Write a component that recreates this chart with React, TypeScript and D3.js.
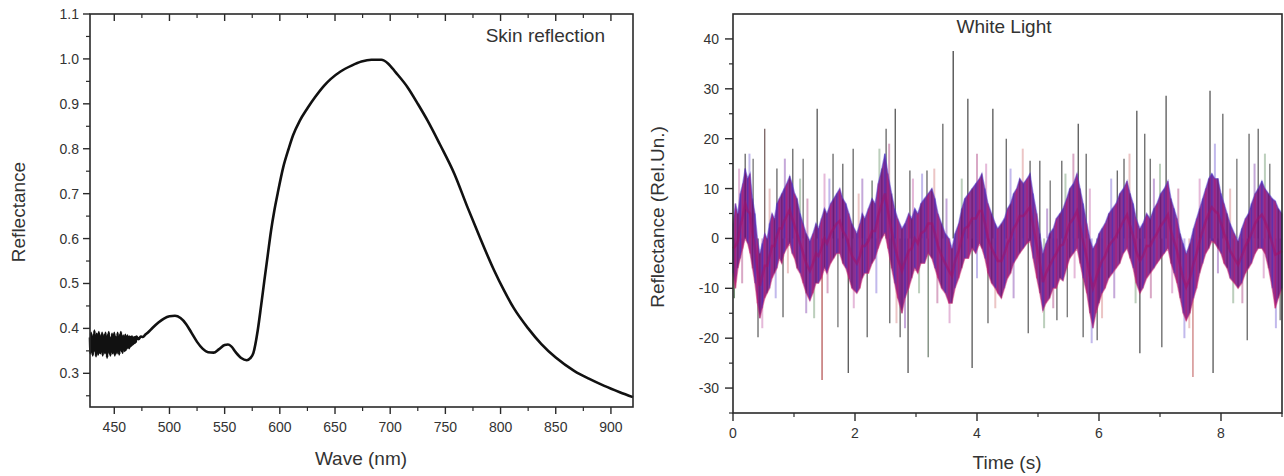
import React from "react";
import * as d3 from "d3";

// ---------- Left panel: skin reflection spectrum ----------
const waveNm = [
  428, 428.5, 429, 429.5, 430, 430.5, 431, 431.5, 432, 432.5, 433, 433.5, 434, 434.5, 435, 435.5, 436, 436.5, 437, 437.5,
  438, 438.5, 439, 439.5, 440, 440.5, 441, 441.5, 442, 442.5, 443, 443.5, 444, 444.5, 445, 445.5, 446, 446.5, 447, 447.5,
  448, 448.5, 449, 449.5, 450, 450.5, 451, 451.5, 452, 452.5, 453, 453.5, 454, 454.5, 455, 455.5, 456, 456.5, 457, 457.5,
  458, 458.5, 459, 459.5, 460, 460.5, 461, 461.5, 462, 462.5, 463, 463.5, 464, 464.5, 465, 465.5, 466, 466.5, 467, 467.5,
  468, 468.5, 469, 469.5, 470,
  472, 474, 476, 478, 480, 485, 490, 495, 500, 505, 510, 515, 520, 525, 530, 535, 540,
  545, 550, 553, 556, 560, 565, 570, 573, 576, 580, 583, 586, 589, 592, 595, 598, 603, 608, 612, 618,
  625, 632, 640, 646, 655, 665, 674, 683, 692, 698, 705, 716, 725, 734, 745, 758, 770, 780, 794, 803,
  812, 825, 837, 850, 867, 880, 894, 908, 920,
];
const reflectance = [
  0.38, 0.345, 0.39, 0.35, 0.375, 0.34, 0.385, 0.355, 0.395, 0.348, 0.372, 0.338, 0.388, 0.352, 0.38, 0.342, 0.392, 0.35, 0.37, 0.345,
  0.385, 0.355, 0.39, 0.34, 0.378, 0.35, 0.385, 0.345, 0.39, 0.355, 0.375, 0.335, 0.385, 0.35, 0.392, 0.345, 0.372, 0.34, 0.38, 0.352,
  0.388, 0.345, 0.375, 0.35, 0.39, 0.34, 0.382, 0.355, 0.376, 0.345, 0.39, 0.35, 0.38, 0.342, 0.386, 0.356, 0.392, 0.35, 0.378, 0.346,
  0.384, 0.355, 0.38, 0.35, 0.386, 0.352, 0.376, 0.356, 0.384, 0.358, 0.38, 0.356, 0.382, 0.36, 0.38, 0.362, 0.382, 0.364, 0.378, 0.366,
  0.38, 0.368, 0.38, 0.37, 0.382,
  0.376, 0.382, 0.381, 0.386, 0.39, 0.402, 0.413, 0.422, 0.427, 0.428, 0.423, 0.41, 0.39, 0.37, 0.355, 0.347, 0.346,
  0.354, 0.363, 0.364, 0.36, 0.347, 0.334, 0.329, 0.333, 0.345, 0.396, 0.45, 0.507, 0.562, 0.617, 0.662, 0.7, 0.758, 0.8, 0.83, 0.862,
  0.89, 0.915, 0.94, 0.955, 0.972, 0.985, 0.994, 0.998, 0.998, 0.99, 0.97, 0.936, 0.9, 0.862, 0.81, 0.745, 0.67, 0.61, 0.53, 0.485,
  0.445, 0.4, 0.365, 0.335, 0.305, 0.288, 0.272, 0.258, 0.247,
];
const leftXTicks = [450, 500, 550, 600, 650, 700, 750, 800, 850, 900];
const leftXMinor = [475, 525, 575, 625, 675, 725, 775, 825, 875];
const leftYTicks = [0.3, 0.4, 0.5, 0.6, 0.7, 0.8, 0.9, 1.0, 1.1];
const leftYMinor = [0.25, 0.35, 0.45, 0.55, 0.65, 0.75, 0.85, 0.95, 1.05];

// ---------- Right panel: White Light time series ----------
const bandT = [
  0.0, 0.04, 0.08, 0.12, 0.16, 0.2, 0.24, 0.28, 0.32, 0.36, 0.4, 0.44, 0.48, 0.52, 0.56, 0.6, 0.64, 0.68, 0.72, 0.76,
  0.8, 0.84, 0.88, 0.93, 0.97, 1.01, 1.05, 1.1, 1.15, 1.2, 1.26, 1.31, 1.36, 1.4, 1.45, 1.5, 1.54, 1.6, 1.65, 1.7,
  1.75, 1.8, 1.85, 1.9, 1.95, 2.03, 2.08, 2.12, 2.16, 2.22, 2.28, 2.33, 2.38, 2.44, 2.49, 2.54, 2.6, 2.65, 2.7, 2.77,
  2.82, 2.88, 2.93, 2.98, 3.03, 3.08, 3.14, 3.2, 3.26, 3.31, 3.36, 3.42, 3.48, 3.54, 3.59, 3.64, 3.7, 3.75, 3.8, 3.86,
  3.92, 3.98, 4.04, 4.08, 4.13, 4.18, 4.24, 4.3, 4.34, 4.4, 4.45, 4.5, 4.55, 4.6, 4.65, 4.7, 4.76, 4.82, 4.87, 4.92,
  4.98, 5.03, 5.08, 5.13, 5.19, 5.25, 5.3, 5.36, 5.41, 5.47, 5.52, 5.58, 5.64, 5.69, 5.74, 5.8, 5.85, 5.9, 5.95, 6.0,
  6.05, 6.1, 6.16, 6.22, 6.28, 6.34, 6.4, 6.46, 6.51, 6.56, 6.61, 6.67, 6.72, 6.78, 6.84, 6.9, 6.95, 7.01, 7.07, 7.13,
  7.18, 7.23, 7.28, 7.33, 7.38, 7.43, 7.49, 7.55, 7.6, 7.65, 7.7, 7.75, 7.8, 7.85, 7.9, 7.95, 8.0, 8.05, 8.1, 8.15,
  8.22, 8.28, 8.34, 8.4, 8.45, 8.5, 8.56, 8.61, 8.67, 8.72, 8.78, 8.84, 8.89, 8.94, 9.0,
];
const bandHi = [
  3, 7, 5, 9, 11, 14, 12, 13, 8, 5, 0, -3, -1, 1, 0, 3, 5, 4, 7, 8,
  9, 10, 11, 12.5, 11, 9, 8, 5, 3, 1, -0.5, 1, 3, 2, 4, 6, 5, 7, 8, 9,
  10, 8, 7, 5, 3, 1, 3, 5, 4, 6, 8, 7, 11, 14, 17, 13, 9, 6, 4, 2,
  3, 5, 4, 6, 5, 7, 8, 9, 10, 8, 5, 3, 1, 0, -2, 1, 3, 6, 8, 9,
  10, 11, 12, 13, 10, 7, 5, 3, 2, 3, 4, 6, 7, 9, 10, 12, 11, 12, 13, 9,
  5, 1, -3, -1, 1, 2, 4, 5, 6, 8, 10, 11, 13, 10, 7, 3, 0, -2, -1, 1,
  2, 3, 5, 6, 7, 9, 10, 11.5, 9, 7, 4, 2, 3, 5, 4, 6, 7, 9, 10, 11.5,
  8, 6, 4, 1, -1, -3, -1, 2, 4, 6, 8, 10, 12, 13, 12, 12, 9, 7, 5, 3,
  1, -0.5, 2, 4, 5, 7, 9, 10, 11.5, 10, 9, 8, 7.5, 6, 5,
];
const bandLo = [
  -7, -10, -6, -4, -2, 0, -1, -3, -6, -9, -13, -16, -14, -12, -11, -10, -8, -7, -6, -4,
  -5, -3, -2, -1, -3, -4, -6, -7, -9, -11, -12.5, -11, -9, -9, -8, -6, -7, -5, -4, -3,
  -3, -5, -6, -8, -10, -11, -10, -8, -7, -7, -5, -4, -2, 0, 1, -2, -6, -9, -12, -15,
  -12, -10, -8, -6, -7, -5, -5, -3, -4, -6, -8, -10, -11, -13, -13, -10, -8, -6, -4, -4,
  -2, -3, -1, -2, -4, -7, -9, -10, -11, -12, -10, -8, -7, -5, -4, -3, -2, -1, -0.5, -4,
  -8, -11, -14.5, -13, -12, -10, -10, -8, -8.5, -6, -4, -3, -2, -5, -8, -11, -15, -18, -15, -13,
  -11, -10, -8, -7, -6, -5, -3, -2, -4, -6, -9, -11, -10, -8, -7, -6, -5, -4, -3, -2,
  -5, -7, -9, -12, -15, -16.5, -15, -12, -10, -7, -5, -3, -2, -0.5, -1, -2, -3, -5, -6, -8,
  -9, -10, -9, -7, -6, -5, -3, -2, -2, -3, -6, -10, -14, -12, -10,
];
const spikeT = [
  0.2, 0.33, 0.52, 0.72, 0.98, 1.15, 1.38, 1.64, 1.8, 1.97, 2.28, 2.51, 2.66, 2.9, 3.18, 3.44, 3.61, 3.85, 4.26, 4.48,
  4.87, 5.03, 5.2, 5.39, 5.66, 5.79, 6.3, 6.41, 6.62, 6.75, 6.84, 7.1, 7.82, 8.03, 8.26, 8.46, 8.61, 8.8,
  0.02, 0.41, 0.82, 1.46, 1.72, 1.89, 2.2, 2.57, 2.74, 2.87, 3.2, 3.92, 4.18, 4.84, 5.31, 5.48, 5.74, 5.97, 6.67, 7.03,
  7.54, 7.87, 8.43, 8.97,
];
const spikeV = [
  17, 16, 22, 14, 18, 16, 26, 17, 15, 18, 11.6, 22, 26, 13.6, 13.6, 23, 37.6, 28, 26, 20,
  15.6, 15.6, 11.6, 15.6, 23, 17, 13.6, 16, 25.6, 21, 16, 28.6, 29.6, 25, 16, 21, 22, 15,
  -12, -19.8, -15.8, -28.4, -17.8, -27, -19.8, -17, -19.8, -27, -23.8, -26, -17, -19, -16.4, -15.8, -19.8, -20.4, -23, -21.8,
  -27.8, -27, -20.4, -16.4,
];
const spikeColor = [
  "#555", "#666", "#6a5050", "#555", "#555", "#666", "#444", "#555", "#555", "#555", "#5a6a5a", "#555", "#444", "#555", "#555", "#555", "#333", "#444", "#444", "#555",
  "#555", "#555", "#666", "#555", "#444", "#555", "#555", "#555", "#444", "#555", "#555", "#444", "#444", "#555", "#666", "#555", "#555", "#666",
  "#507050", "#555", "#555", "#b04848", "#666", "#444", "#555", "#555", "#555", "#444", "#667766", "#444", "#555", "#555", "#555", "#666", "#555", "#555", "#444", "#555",
  "#c87070", "#444", "#555", "#666",
];
// smaller, fainter excursions around the band
const minorT = [
  0.1, 0.27, 0.6, 0.85, 1.1, 1.22, 1.5, 1.58, 2.06, 2.12, 2.4, 2.56, 2.95, 3.1, 3.3, 3.5, 3.75, 4.0, 4.15, 4.55,
  4.75, 5.15, 5.45, 5.58, 5.85, 6.2, 6.5, 6.9, 7.0, 7.3, 7.65, 7.9, 8.15, 8.55, 8.72,
  0.15, 0.48, 0.7, 0.9, 1.2, 1.33, 1.55, 1.98, 2.35, 2.68, 2.82, 3.05, 3.35, 3.55, 4.0, 4.3, 4.6, 5.1, 5.25, 5.6,
  5.88, 6.05, 6.25, 6.6, 6.85, 7.2, 7.4, 7.48, 7.95, 8.2, 8.35, 8.7, 8.9,
];
const minorV = [
  14, 17, 10, 16, 12, 8, 13, 12, 9, 12, 18, 19, 12, 13, 14, 8, 12, 17, 15, 14,
  18, 6, 13, 17, 10, 12, 17, 12, 15, 10, 12, 19, 10, 15, 17,
  -9, -18, -12, -7, -15, -16, -11, -14, -11, -17, -18, -11, -13, -17, -8, -14, -12, -18, -14, -8,
  -21, -16, -12, -13, -12, -11, -20, -18, -7, -13, -13, -8, -18,
];
const minorPalette = ["#d48cc0", "#9a8ce0", "#e0a0a0", "#a070c0", "#90b090", "#c070a0"];

const rightXTicks = [0, 2, 4, 6, 8];
const rightXMinor = [1, 3, 5, 7, 9];
const rightYTicks = [-30, -20, -10, 0, 10, 20, 30, 40];
const rightYMinor = [-35, -25, -15, -5, 5, 15, 25, 35];

const FONT = "'Liberation Sans', Arial, sans-serif";
const AX = "#2a2a2a";
const TXT = "#333";

export default function App() {
  // left scales
  const lx = d3.scaleLinear().domain([428, 920]).range([90, 633]);
  const ly = d3.scaleLinear().domain([0.225, 1.1]).range([407, 14]);
  const specPts = waveNm.map((w, i) => [w, reflectance[i]] as [number, number]);
  const specLine = d3
    .line<[number, number]>()
    .x((d) => lx(d[0]))
    .y((d) => ly(d[1]))
    .curve(d3.curveMonotoneX);

  // right scales
  const rx = d3.scaleLinear().domain([0, 9]).range([733, 1282]);
  const ry = d3.scaleLinear().domain([-35, 45]).range([413, 14]);
  const bandIdx = bandT.map((_, i) => i);
  const area = d3
    .area<number>()
    .x((i) => rx(bandT[i]))
    .y0((i) => ry(bandLo[i]))
    .y1((i) => ry(bandHi[i]));
  const hiLine = d3
    .line<number>()
    .x((i) => rx(bandT[i]))
    .y((i) => ry(bandHi[i]));
  const loLine = d3
    .line<number>()
    .x((i) => rx(bandT[i]))
    .y((i) => ry(bandLo[i]));
  const midLine = d3
    .line<number>()
    .x((i) => rx(bandT[i]))
    .y((i) => ry((bandHi[i] + bandLo[i]) / 2));

  return (
    <svg
      width={1284}
      height={476}
      style={{ position: "absolute", left: 0, top: 0, display: "block", background: "#fff" }}
      fontFamily={FONT}
    >
      <rect x={0} y={0} width={1284} height={476} fill="#fff" />

      {/* ================= LEFT PANEL ================= */}
      <path d={specLine(specPts) || ""} fill="none" stroke="#111" strokeWidth={2.6} strokeLinejoin="round" />
      <rect x={90} y={14} width={543} height={393} fill="none" stroke={AX} strokeWidth={1.6} />
      {leftXTicks.map((t) => (
        <g key={"lxt" + t}>
          <line x1={lx(t)} x2={lx(t)} y1={407} y2={414} stroke={AX} strokeWidth={1.4} />
          <line x1={lx(t)} x2={lx(t)} y1={14} y2={21} stroke={AX} strokeWidth={1.4} />
          <text x={lx(t)} y={432} textAnchor="middle" fontSize={14} fill={TXT}>
            {t}
          </text>
        </g>
      ))}
      {leftXMinor.map((t) => (
        <g key={"lxm" + t}>
          <line x1={lx(t)} x2={lx(t)} y1={407} y2={411} stroke={AX} strokeWidth={1.2} />
          <line x1={lx(t)} x2={lx(t)} y1={14} y2={18} stroke={AX} strokeWidth={1.2} />
        </g>
      ))}
      {leftYTicks.map((t) => (
        <g key={"lyt" + t}>
          <line x1={83} x2={90} y1={ly(t)} y2={ly(t)} stroke={AX} strokeWidth={1.4} />
          <text x={79} y={ly(t) + 5} textAnchor="end" fontSize={14} fill={TXT}>
            {t.toFixed(1)}
          </text>
        </g>
      ))}
      {leftYMinor.map((t) => (
        <line key={"lym" + t} x1={86} x2={90} y1={ly(t)} y2={ly(t)} stroke={AX} strokeWidth={1.2} />
      ))}
      <text x={605} y={42} textAnchor="end" fontSize={19} fill={TXT}>
        Skin reflection
      </text>
      <text x={361} y={465} textAnchor="middle" fontSize={19} fill={TXT}>
        Wave (nm)
      </text>
      <text transform="translate(25,212) rotate(-90)" textAnchor="middle" fontSize={19} fill={TXT}>
        Reflectance
      </text>

      {/* ================= RIGHT PANEL ================= */}
      <g>
        {minorT.map((t, i) => (
          <line
            key={"mn" + i}
            x1={rx(t)}
            x2={rx(t)}
            y1={ry(0)}
            y2={ry(minorV[i])}
            stroke={minorPalette[i % minorPalette.length]}
            strokeWidth={2}
            opacity={0.6}
          />
        ))}
        {spikeT.map((t, i) => (
          <line
            key={"sp" + i}
            x1={rx(t)}
            x2={rx(t)}
            y1={ry(0)}
            y2={ry(spikeV[i])}
            stroke={spikeColor[i]}
            strokeWidth={1.3}
            opacity={0.9}
          />
        ))}
        <path d={area(bandIdx) || ""} fill="#7e1e8a" opacity={0.9} />
        {bandIdx.map((i) => (
          <line
            key={"st" + i}
            x1={rx(bandT[i])}
            x2={rx(bandT[i])}
            y1={ry(bandLo[i])}
            y2={ry(bandHi[i])}
            stroke={i % 3 === 0 ? "#3a2cc0" : i % 3 === 1 ? "#c0186a" : "#5a1060"}
            strokeWidth={1.4}
            opacity={0.55}
          />
        ))}
        <path d={hiLine(bandIdx) || ""} fill="none" stroke="#5040d0" strokeWidth={1.4} opacity={0.5} />
        <path d={loLine(bandIdx) || ""} fill="none" stroke="#d03070" strokeWidth={1.4} opacity={0.5} />
        <path d={midLine(bandIdx) || ""} fill="none" stroke="#a0106a" strokeWidth={2.5} opacity={0.55} />
      </g>
      <rect x={733} y={14} width={549} height={399} fill="none" stroke={AX} strokeWidth={1.6} />
      {rightXTicks.map((t) => (
        <g key={"rxt" + t}>
          <line x1={rx(t)} x2={rx(t)} y1={413} y2={421} stroke={AX} strokeWidth={1.4} />
          <text x={rx(t)} y={438} textAnchor="middle" fontSize={14} fill={TXT}>
            {t}
          </text>
        </g>
      ))}
      {rightXMinor.map((t) => (
        <line key={"rxm" + t} x1={rx(t)} x2={rx(t)} y1={413} y2={417} stroke={AX} strokeWidth={1.2} />
      ))}
      {rightYTicks.map((t) => (
        <g key={"ryt" + t}>
          <line x1={725} x2={733} y1={ry(t)} y2={ry(t)} stroke={AX} strokeWidth={1.4} />
          <text x={719} y={ry(t) + 5} textAnchor="end" fontSize={14} fill={TXT}>
            {t}
          </text>
        </g>
      ))}
      {rightYMinor.map((t) => (
        <line key={"rym" + t} x1={729} x2={733} y1={ry(t)} y2={ry(t)} stroke={AX} strokeWidth={1.2} />
      ))}
      <text x={1004} y={33} textAnchor="middle" fontSize={19} fill={TXT}>
        White Light
      </text>
      <text x={1007} y={469} textAnchor="middle" fontSize={19} fill={TXT}>
        Time (s)
      </text>
      <text transform="translate(664,217) rotate(-90)" textAnchor="middle" fontSize={19} fill={TXT}>
        Reflectance (Rel.Un.)
      </text>
    </svg>
  );
}
